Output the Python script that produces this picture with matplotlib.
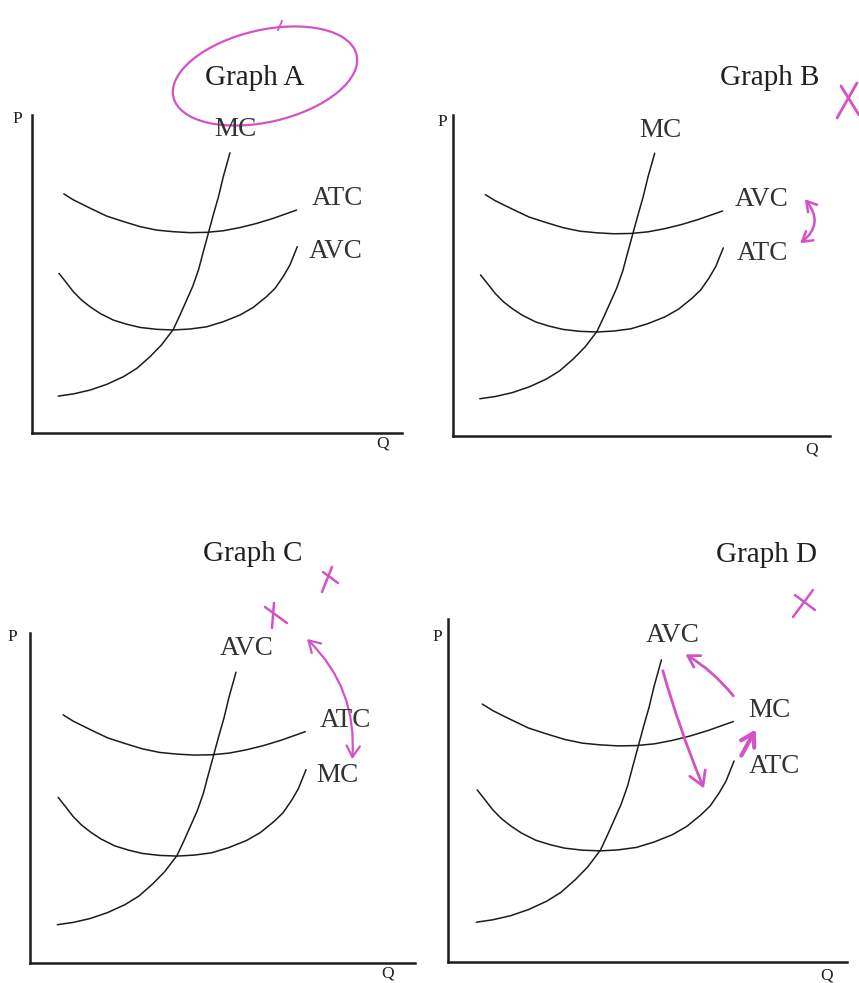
import matplotlib
matplotlib.use("Agg")
import matplotlib.pyplot as plt
from matplotlib.patches import Ellipse, FancyArrowPatch

# Cost curves (Q and P on a 0-10 scale of each frame)
steep_q = [0.71, 1.12, 1.57, 2.02, 2.47, 2.83, 3.19, 3.50, 3.82, 4.00,
           4.18, 4.34, 4.50, 4.63, 4.77, 4.90, 5.04, 5.17, 5.35]
steep_p = [1.16, 1.23, 1.35, 1.53, 1.77, 2.03, 2.40, 2.77, 3.26, 3.71,
           4.18, 4.60, 5.13, 5.70, 6.30, 6.86, 7.43, 8.06, 8.81]

upper_q = [0.86, 1.12, 1.57, 2.02, 2.47, 2.92, 3.37, 3.82, 4.27, 4.72,
           5.17, 5.62, 6.07, 6.52, 7.15]
upper_p = [7.52, 7.33, 7.07, 6.82, 6.65, 6.49, 6.38, 6.33, 6.30, 6.31,
           6.36, 6.46, 6.59, 6.75, 7.01]

lower_q = [0.73, 0.94, 1.12, 1.34, 1.57, 1.84, 2.20, 2.56, 2.92, 3.37, 3.82,
           4.27, 4.72, 5.17, 5.62, 5.98, 6.34, 6.57, 6.79, 6.97, 7.17]
lower_p = [5.02, 4.71, 4.44, 4.18, 3.97, 3.76, 3.55, 3.42, 3.32, 3.26, 3.24,
           3.27, 3.34, 3.50, 3.71, 3.95, 4.29, 4.55, 4.92, 5.28, 5.86]

titles = ["Graph A", "Graph B", "Graph C", "Graph D"]
# labels for (steep, upper, lower) curve in each graph
curve_labels = [
    ["MC", "ATC", "AVC"],
    ["MC", "AVC", "ATC"],
    ["AVC", "ATC", "MC"],
    ["AVC", "MC", "ATC"],
]

W, H = 859, 983
PINK = "#d452c6"
INK = "#1c1c1c"

# frame of each graph in pixels: left, top, right, bottom
frames = [(32, 115, 402, 433), (453, 115, 830, 436),
          (30, 633, 415, 963), (448, 619, 847, 962)]
title_pos = [(255, 85), (770, 85), (253, 561), (767, 562)]
label_pos = [
    [(235, 136), (337, 205), (336, 258)],
    [(660, 137), (762, 206), (762, 260)],
    [(247, 655), (345, 727), (337, 782)],
    [(673, 642), (769, 717), (774, 773)],
]
p_pos = [(17, 123), (442, 126), (12, 641), (437, 641)]
q_pos = [(383, 447), (812, 453), (388, 977), (827, 979)]

plt.rcParams["font.family"] = ["Liberation Serif", "DejaVu Serif"]

fig = plt.figure(figsize=(W / 100, H / 100), dpi=100)
fig.patch.set_facecolor("white")

for (l, t, r, b) in frames:
    ax = fig.add_axes([l / W, 1 - b / H, (r - l) / W, (b - t) / H])
    ax.patch.set_alpha(0)
    for q, p in [(steep_q, steep_p), (upper_q, upper_p), (lower_q, lower_p)]:
        ax.plot(q, p, color=INK, lw=1.1, solid_capstyle="round")
    ax.set_xlim(0, 10)
    ax.set_ylim(0, 10)
    ax.spines["top"].set_visible(False)
    ax.spines["right"].set_visible(False)
    for s in ("left", "bottom"):
        ax.spines[s].set_linewidth(1.8)
        ax.spines[s].set_color(INK)
    ax.set_xticks([])
    ax.set_yticks([])

# overlay in pixel units for the text and the pen marks
ov = fig.add_axes([0, 0, 1, 1])
ov.set_xlim(0, W)
ov.set_ylim(H, 0)
ov.axis("off")
ov.patch.set_alpha(0)

for i in range(4):
    x, y = title_pos[i]
    ov.text(x, y, titles[i], ha="center", va="baseline", fontsize=21, color="#202020")
    for (x, y), lab in zip(label_pos[i], curve_labels[i]):
        ov.text(x, y, lab, ha="center", va="baseline", fontsize=19.5, color="#333333")
    ov.text(*p_pos[i], "P", ha="center", va="baseline", fontsize=12.5, color="#202020")
    ov.text(*q_pos[i], "Q", ha="center", va="baseline", fontsize=12.5, color="#202020")

# circle round the title of graph A
ov.add_patch(Ellipse((265, 76), 188, 92, angle=-13, fill=False, ec=PINK, lw=1.6))
ov.plot([278, 282], [30, 21], color=PINK, lw=1.3)


def cross(x0, y0, x1, y1, x2, y2, x3, y3, lw=1.8):
    ov.plot([x0, x1], [y0, y1], color=PINK, lw=lw, solid_capstyle="round")
    ov.plot([x2, x3], [y2, y3], color=PINK, lw=lw, solid_capstyle="round")


def arrow(a, b, rad, style="->", lw=1.8, head=0.45):
    ov.add_patch(FancyArrowPatch(
        a, b, connectionstyle=f"arc3,rad={rad}",
        arrowstyle=f"{style},head_length={head},head_width={head * 0.6}",
        mutation_scale=20, color=PINK, lw=lw, capstyle="round"))


# graph B
cross(837, 118, 857, 83, 841, 86, 859, 115, lw=2.0)
arrow((803, 197), (798, 245), -0.55, style="<->", lw=1.8, head=0.35)

# graph C
cross(265, 607, 287, 623, 274, 603, 272, 628)
cross(323, 572, 338, 583, 332, 567, 322, 592)
arrow((305, 637), (352, 762), -0.24, style="<->", lw=1.6, head=0.4)

# graph D
cross(793, 617, 813, 590, 795, 595, 815, 610)
arrow((735, 698), (683, 653), 0.1, lw=2.0, head=0.4)
arrow((662, 668), (705, 791), 0.03, lw=2.0, head=0.5)
arrow((740, 758), (757, 727), 0.0, lw=3.0, head=0.45)

fig.savefig("out.png", dpi=100)
